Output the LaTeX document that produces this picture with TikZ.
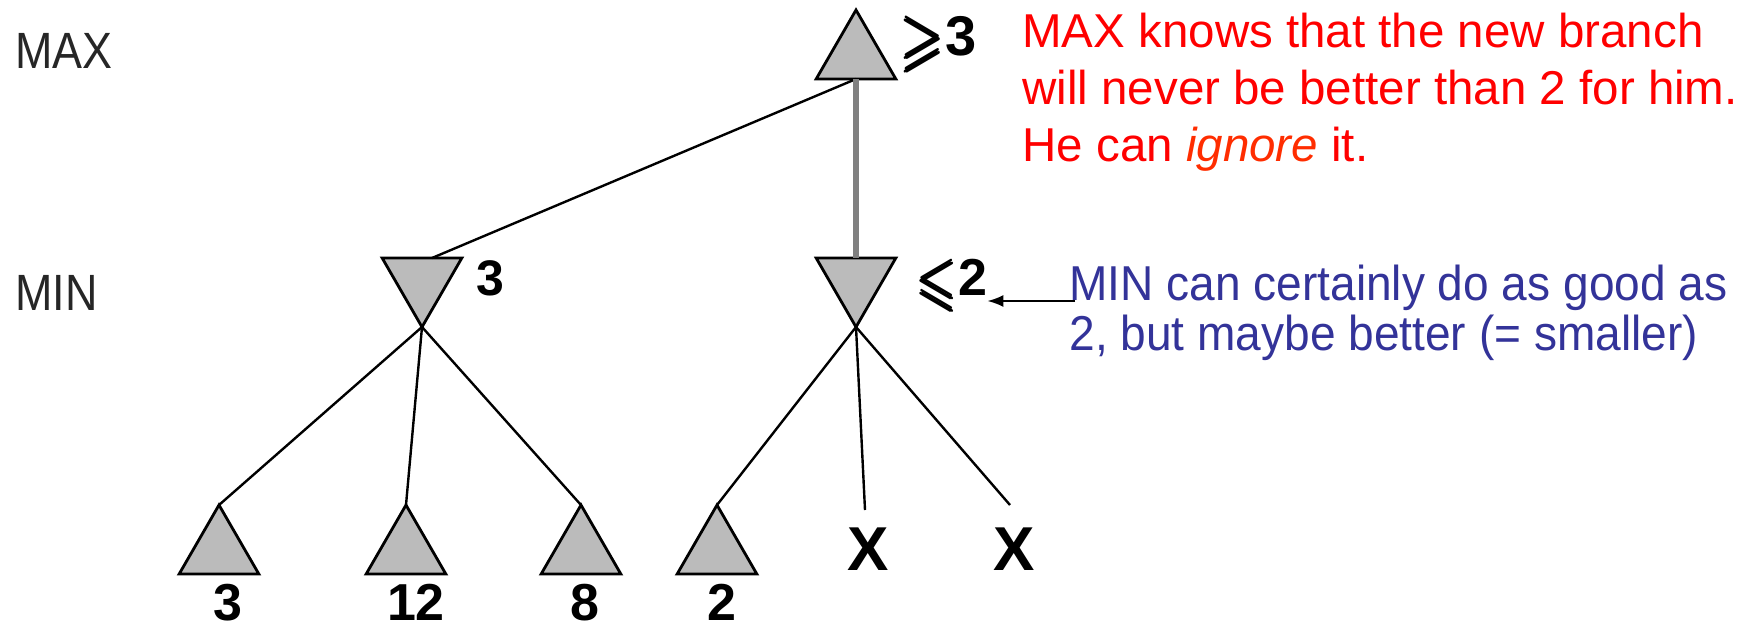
\documentclass[tikz,border=0pt]{standalone}
\usepackage{amssymb,bm}
\usepackage{fontspec}
\setmainfont{Liberation Sans}
\newfontfamily\minnotefont{Liberation Sans}[FakeStretch=0.94]
\newfontfamily\levelfont{Liberation Sans}[FakeStretch=0.88]
\usetikzlibrary{arrows.meta,shapes.geometric}
\definecolor{nodegray}{RGB}{187,187,187}
\definecolor{edgegray}{RGB}{128,128,128}
\definecolor{notered}{RGB}{255,0,0}
\definecolor{ignorered}{RGB}{255,45,0}
\definecolor{noteblue}{RGB}{51,51,153}

\begin{document}
\begin{tikzpicture}[x=0.5pt,y=-0.5pt,>=Latex,
 maxnode/.style={draw,fill=nodegray,line width=1.4pt,regular polygon,regular polygon sides=3,minimum size=46pt,inner sep=0pt,outer sep=0pt},
 minnode/.style={maxnode,shape border rotate=180},
 val/.style={font=\fontsize{25}{30}\selectfont\bfseries,inner sep=0pt,anchor=base},
 level/.style={font=\levelfont\fontsize{25.5}{30}\selectfont,text=black!85,inner sep=0pt,anchor=base west},
 note/.style={align=left,inner sep=0pt,anchor=north west},
 edge/.style={line width=1.2pt},
 arr/.style={-{Latex[length=8pt,width=6pt]},line width=1pt}]
\useasboundingbox (0,0) rectangle (1760,627);

\node[level] (maxlab) at (15,68) {MAX};
\node[level] (minlab) at (15,310) {MIN};

% tree
\node[maxnode] (root) at (856,56) {};
\node[minnode] (min1) at (422,281) {};
\node[minnode] (min2) at (856,281) {};
\node[maxnode] (leaf1) at (219,551) {};
\node[maxnode] (leaf2) at (406,551) {};
\node[maxnode] (leaf3) at (581,551) {};
\node[maxnode] (leaf4) at (717,551) {};
\coordinate (x1top) at (865,510);
\coordinate (x2top) at (1010,505);

\draw[edge] (root.side 2) -- ([xshift=5pt]min1.side 2);
\draw[line width=3pt,edgegray] (root.side 2) -- (min2.side 2);
\draw[edge] (min1.corner 1) -- (leaf1.corner 1);
\draw[edge] (min1.corner 1) -- (leaf2.corner 1);
\draw[edge] (min1.corner 1) -- (leaf3.corner 1);
\draw[edge] (min2.corner 1) -- (leaf4.corner 1);
\draw[edge] (min2.corner 1) -- (x1top);
\draw[edge] (min2.corner 1) -- (x2top);

% values
\node[val,anchor=base west,font=\fontsize{28}{32}\selectfont\bfseries] (rootval) at (899,55) {\raisebox{-4pt}{\scalebox{1}[1.25]{$\bm{\geqslant}$}}3};
\node[val,anchor=base west] (min1val) at (476,295) {3};
\node[val,anchor=base west,font=\fontsize{26}{30}\selectfont\bfseries] (min2val) at (915,295) {\raisebox{-4pt}{\scalebox{1}[1.25]{$\bm{\leqslant}$}}2};
\node[val,font=\fontsize{26}{30}\selectfont\bfseries] (leaf1val) at (228,620) {3};
\node[val,font=\fontsize{26}{30}\selectfont\bfseries] (leaf2val) at (416,620) {12};
\node[val,font=\fontsize{26}{30}\selectfont\bfseries] (leaf3val) at (585,620) {8};
\node[val,font=\fontsize{26}{30}\selectfont\bfseries] (leaf4val) at (722,620) {2};
\node[val,font=\fontsize{31}{36}\selectfont\bfseries] (x1) at (868,570) {X};
\node[val,font=\fontsize{31}{36}\selectfont\bfseries] (x2) at (1014,570) {X};

% notes
\node[note,text=notered,font=\fontsize{23.75}{28.5}\selectfont] (maxnote) at (1022,13)
 {MAX knows that the new branch\\will never be better than 2 for him.\\He can \textcolor{ignorered}{\textit{ignore}} it.};
\node[note,text=noteblue,font=\minnotefont\fontsize{24.5}{25}\selectfont] (minnote) at (1069,265)
 {MIN can certainly do as good as\\2, but maybe better (= smaller)};
\coordinate (notetail) at (1075,301);
\draw[arr] (notetail) -- (notetail -| min2val.east);
\end{tikzpicture}
\end{document}
